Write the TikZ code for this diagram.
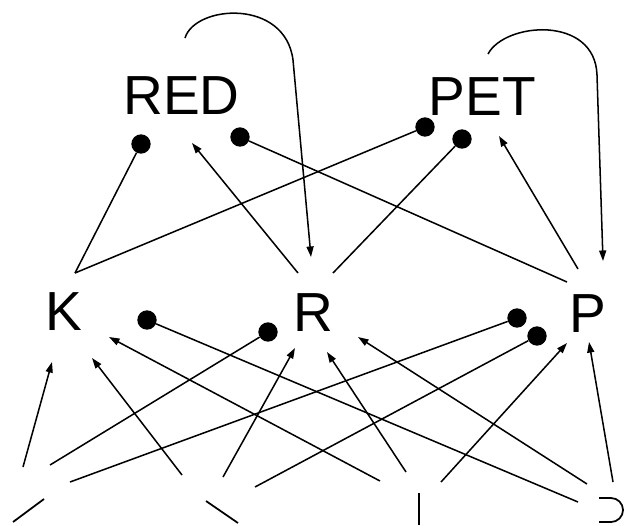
\documentclass[tikz,border=0pt]{standalone}
\usepackage{fontspec}
\setmainfont{Liberation Sans}
\usetikzlibrary{arrows.meta}
\tikzset{
  unit/.style={font=\fontsize{47}{47}\selectfont,inner sep=0pt},
  inhib/.style={circle,fill=black,minimum size=0.58cm,inner sep=0pt},
  link/.style={line width=1.3pt},
  excite/.style={-{Triangle[length=9pt,width=6pt]},line width=1.3pt},
  feat/.style={line width=1.5pt}
}

\begin{document}
\begin{tikzpicture}[x=0.03cm,y=-0.03cm]
  \useasboundingbox (0,0) rectangle (626,525);

  % Word units
  \node[unit] (red) at (181.5,95.5) {RED};
  \node[unit] (pet) at (482.5,97) {PET};

  % Letter units
  \node[unit] (k) at (63.5,312) {K};
  \node[unit] (r) at (313.5,312.5) {R};
  \node[unit] (p) at (588,313.5) {P};

  % Inhibitory endings
  \node[inhib] (k-red) at (141,144) {};
  \node[inhib] (p-red) at (240,137) {};
  \node[inhib] (k-pet) at (425,127) {};
  \node[inhib] (r-pet) at (462,139) {};
  \node[inhib] (fd-k) at (147,320) {};
  \node[inhib] (fa-r) at (268,332) {};
  \node[inhib] (fa-p) at (517,318) {};
  \node[inhib] (fb-p) at (537,336) {};

  % Ports
  \coordinate (red-top) at (185,38);
  \coordinate (red-in) at (192,143);
  \coordinate (pet-top) at (488,54);
  \coordinate (pet-in) at (499,136);
  \coordinate (k-up) at (75,273);
  \coordinate (k-in1) at (52,362);
  \coordinate (k-in2) at (92,358);
  \coordinate (k-in3) at (109,337);
  \coordinate (r-upl) at (298,273);
  \coordinate (r-upr) at (333,273);
  \coordinate (r-top) at (311,257);
  \coordinate (r-in1) at (295,348);
  \coordinate (r-in2) at (327,352);
  \coordinate (r-in3) at (358,337);
  \coordinate (p-upl) at (567,282);
  \coordinate (p-up) at (578,269);
  \coordinate (p-top) at (603,261);
  \coordinate (p-in1) at (567,343);
  \coordinate (p-in2) at (589,342);
  \coordinate (fa1) at (23,467);
  \coordinate (fa2) at (50,465);
  \coordinate (fa3) at (70,482);
  \coordinate (fb1) at (182,475);
  \coordinate (fb2) at (223,477);
  \coordinate (fb3) at (255,487);
  \coordinate (fc1) at (380,481);
  \coordinate (fc2) at (406,472);
  \coordinate (fc3) at (441,482);
  \coordinate (fd1) at (578,502);
  \coordinate (fd2) at (587,484);
  \coordinate (fd3) at (613,482);

  % Feature detectors (cut off at the bottom)
  \draw[feat] (13,522) -- (44,499);
  \draw[feat] (206,501) -- (238,523);
  \draw[feat] (419,493) -- (419,525);
  \draw[feat] (599,498) -- (611,498) arc[start angle=-90,end angle=90,radius=12] -- (599,522);

  % Letters to words
  \draw[link] (k-up) -- (k-red);
  \draw[link] (k-up) -- (k-pet);
  \draw[excite] (r-upl) -- (red-in);
  \draw[link] (r-upr) -- (r-pet);
  \draw[link] (p-upl) -- (p-red);
  \draw[excite] (p-up) -- (pet-in);

  % Words back to letters
  \draw[excite] (red-top) .. controls (195,5) and (285,-2) .. (293,60) -- (r-top);
  \draw[excite] (pet-top) .. controls (505,22) and (595,15) .. (597,75) -- (p-top);

  % Features to letters
  \draw[excite] (fa1) -- (k-in1);
  \draw[link] (fa2) -- (fa-r);
  \draw[link] (fa3) -- (fa-p);
  \draw[excite] (fb1) -- (k-in2);
  \draw[excite] (fb2) -- (r-in1);
  \draw[link] (fb3) -- (fb-p);
  \draw[excite] (fc1) -- (k-in3);
  \draw[excite] (fc2) -- (r-in2);
  \draw[excite] (fc3) -- (p-in1);
  \draw[link] (fd1) -- (fd-k);
  \draw[excite] (fd2) -- (r-in3);
  \draw[excite] (fd3) -- (p-in2);
\end{tikzpicture}
\end{document}
